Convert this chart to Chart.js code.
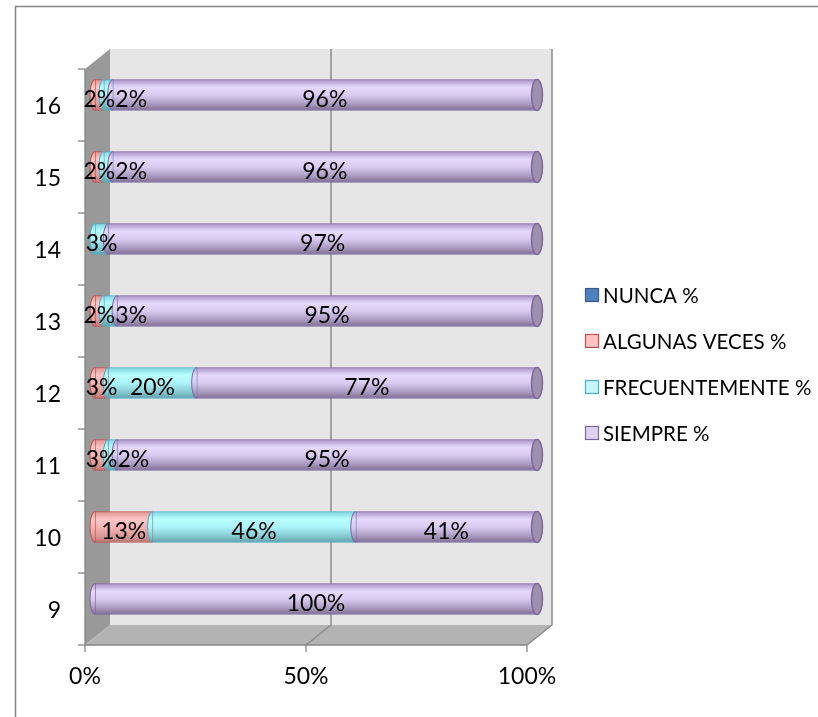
<!DOCTYPE html>
<html>
<head>
<meta charset="utf-8">
<script src="https://cdn.jsdelivr.net/npm/chart.js@4/dist/chart.umd.min.js"></script>
<style>
  html, body { margin: 0; background: #fff; }
  canvas { display: block; }
</style>
</head>
<body>
<canvas id="chart" width="818" height="717"></canvas>
<script>
// datos
const categories = ['9', '10', '11', '12', '13', '14', '15', '16'];
const seriesNames = ['NUNCA %', 'ALGUNAS VECES %', 'FRECUENTEMENTE %', 'SIEMPRE %'];
const nunca = [0, 0, 0, 0, 0, 0, 0, 0];
const algunasVeces = [0, 13, 3, 3, 2, 0, 2, 2];
const frecuentemente = [0, 46, 2, 20, 3, 3, 2, 2];
const siempre = [100, 41, 95, 77, 95, 97, 96, 96];
const xTicks = [0, 50, 100];

const FONT = 'Lato, "Open Sans", sans-serif';
const BAR = 31;
// desplazamientos del efecto 3D (plano frontal / pared del fondo)
const FX = -10, FY = 10, BX = 15, BY = -10;

const borders = ['#385d8a', '#c0504d', '#4bacc6', '#8064a2'];
const flats = ['#4f81bd', '#ffc3c3', '#c6f6fc', '#ddd2ef'];
const stops = [
  [[0, '#5d86bb'], [0.3, '#7ea3d6'], [1, '#3f6596']],
  [[0, '#dd9391'], [0.25, '#ffc6c6'], [0.5, '#f6b3b2'], [0.8, '#d99896'], [1, '#b57371']],
  [[0, '#7ed2df'], [0.25, '#b8ffff'], [0.5, '#abf4f9'], [0.8, '#86c9d1'], [1, '#5fa1ab']],
  [[0, '#a693c4'], [0.25, '#e6d9fc'], [0.5, '#d9cbf1'], [0.8, '#a898be'], [1, '#7c6d93']]
];

function cylinder(chart, i, s) {
  const y = chart.scales.y.getPixelForValue(i);
  const g = chart.ctx.createLinearGradient(0, y - BAR / 2, 0, y + BAR / 2);
  s.forEach(([o, c]) => g.addColorStop(o, c));
  return g;
}

const values = [nunca, algunasVeces, frecuentemente, siempre];
const datasets = values.map((d, k) => ({
  label: seriesNames[k],
  data: d,
  backgroundColor: (c) => c.chart.chartArea ? cylinder(c.chart, c.dataIndex, stops[k]) : flats[k],
  borderColor: borders[k],
  borderWidth: 1,
  borderSkipped: false,
  barThickness: BAR
}));

const wall3d = {
  id: 'wall3d',
  beforeDraw(chart) {
    const c = chart.ctx;
    c.save();
    c.strokeStyle = '#868686';
    c.lineWidth = 1.5;
    c.beginPath();
    c.moveTo(15.5, 717); c.lineTo(15.5, 6.5); c.lineTo(818, 6.5);
    c.stroke();
    c.restore();
  },
  beforeDatasetsDraw(chart) {
    const c = chart.ctx;
    const { left, right, top, bottom } = chart.chartArea;
    const xs = chart.scales.x, ys = chart.scales.y;
    c.save();
    // pared del fondo
    c.fillStyle = '#e6e6e6';
    c.fillRect(left + BX, top + BY, right - left, bottom - top);
    // pared izquierda
    c.fillStyle = '#999999';
    c.beginPath();
    c.moveTo(left + FX, top + FY); c.lineTo(left + BX, top + BY);
    c.lineTo(left + BX, bottom + BY); c.lineTo(left + FX, bottom + FY);
    c.closePath(); c.fill();
    // piso
    c.fillStyle = '#b3b3b3';
    c.beginPath();
    c.moveTo(left + FX, bottom + FY); c.lineTo(left + BX, bottom + BY);
    c.lineTo(right + BX, bottom + BY); c.lineTo(right + FX, bottom + FY);
    c.closePath(); c.fill();
    // lineas de division
    c.strokeStyle = '#8c8c8c';
    c.lineWidth = 1.5;
    xTicks.slice(1).forEach(v => {
      const px = xs.getPixelForValue(v);
      c.beginPath();
      c.moveTo(px + BX, top + BY); c.lineTo(px + BX, bottom + BY); c.lineTo(px + FX, bottom + FY);
      c.stroke();
    });
    // ejes frontales
    c.strokeStyle = '#868686';
    c.lineWidth = 1.3;
    c.beginPath();
    c.moveTo(left + FX, top + FY); c.lineTo(left + FX, bottom + FY); c.lineTo(right + FX, bottom + FY);
    c.stroke();
    for (let i = 0; i <= categories.length; i++) {
      const py = ys.getPixelForValue(i - 0.5) + FY;
      c.beginPath(); c.moveTo(left + FX - 7, py); c.lineTo(left + FX, py); c.stroke();
    }
    xTicks.forEach(v => {
      const px = xs.getPixelForValue(v) + FX;
      c.beginPath(); c.moveTo(px, bottom + FY); c.lineTo(px, bottom + FY + 7); c.stroke();
    });
    c.restore();
  },
  afterDatasetsDraw(chart) {
    const c = chart.ctx;
    c.save();
    c.font = '23px ' + FONT;
    c.textAlign = 'center';
    c.textBaseline = 'middle';
    categories.forEach((cat, j) => {
      const segs = [];
      values.forEach((d, k) => {
        if (!d[j]) return;
        const el = chart.getDatasetMeta(k).data[j];
        segs.push({ k, v: d[j], p: el.getProps(['x', 'y', 'base', 'height'], true) });
      });
      // caras curvas
      segs.forEach(s => {
        c.beginPath();
        c.ellipse(s.p.base, s.p.y, 5, BAR / 2, 0, Math.PI / 2, Math.PI * 1.5);
        c.fillStyle = cylinder(chart, j, stops[s.k]);
        c.fill();
        c.strokeStyle = borders[s.k];
        c.lineWidth = 1;
        c.stroke();
      });
      const last = segs[segs.length - 1];
      if (last) {
        c.beginPath();
        c.ellipse(last.p.x, last.p.y, 5.5, BAR / 2, 0, 0, Math.PI * 2);
        c.fillStyle = '#9c91ad';
        c.fill();
        c.strokeStyle = borders[last.k];
        c.lineWidth = 1.5;
        c.stroke();
      }
      // etiquetas
      c.fillStyle = '#000';
      let prevRight = -Infinity;
      segs.forEach(s => {
        const txt = s.v + '%';
        const w = c.measureText(txt).width;
        let cx = (s.p.base + s.p.x) / 2;
        if (cx - w / 2 < prevRight) cx = prevRight + w / 2;
        c.fillText(txt, cx, s.p.y + 5);
        prevRight = cx + w / 2;
      });
    });
    c.restore();
  },
  afterDraw(chart) {
    const c = chart.ctx;
    const { right, top, bottom } = chart.chartArea;
    const lx = right + 48;
    const cy = (top + bottom) / 2 + 17;
    const gap = 46;
    c.save();
    c.font = '20.5px ' + FONT;
    c.textBaseline = 'middle';
    seriesNames.forEach((name, k) => {
      const y = cy + (k - 1.5) * gap;
      c.fillStyle = flats[k];
      c.fillRect(lx + 0.5, y - 6.5, 13, 13);
      c.strokeStyle = borders[k];
      c.lineWidth = 1.2;
      c.strokeRect(lx + 0.5, y - 6.5, 13, 13);
      c.fillStyle = '#000';
      c.fillText(name, lx + 18, y + 1);
    });
    c.restore();
  }
};

new Chart(document.getElementById('chart'), {
  type: 'bar',
  data: { labels: categories, datasets },
  options: {
    indexAxis: 'y',
    responsive: false,
    animation: false,
    layout: { padding: { top: 59, right: 281, left: 0, bottom: 0 } },
    plugins: {
      legend: { display: false },
      tooltip: { enabled: false }
    },
    scales: {
      x: {
        stacked: true,
        min: 0,
        max: 100,
        afterBuildTicks: (s) => { s.ticks = xTicks.map(v => ({ value: v })); },
        afterFit: (s) => { s.height = 82; },
        grid: { display: false, drawTicks: false },
        border: { display: false },
        ticks: {
          color: '#000',
          font: { family: FONT, size: 23 },
          padding: 28,
          labelOffset: FX,
          maxRotation: 0,
          callback: (v) => v + '%'
        }
      },
      y: {
        stacked: true,
        reverse: true,
        afterFit: (s) => { s.width = 95; },
        grid: { display: false, drawTicks: false },
        border: { display: false },
        ticks: {
          color: '#000',
          font: { family: FONT, size: 23 },
          padding: 34,
          labelOffset: 12
        }
      }
    }
  },
  plugins: [wall3d]
});
</script>
</body>
</html>
